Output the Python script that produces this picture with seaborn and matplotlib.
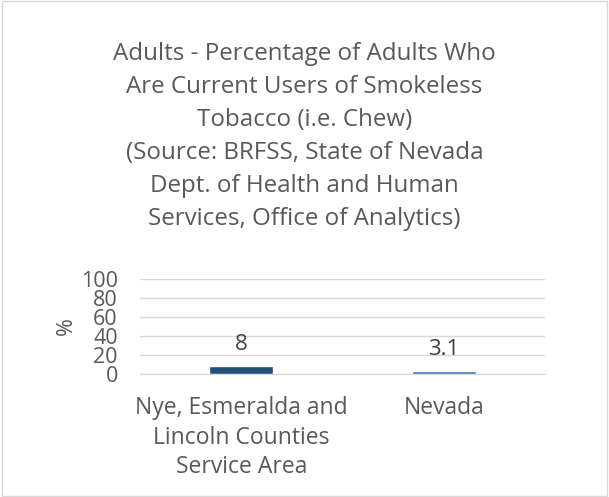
import matplotlib.pyplot as plt
import seaborn as sns
import pandas as pd
from matplotlib.patches import Rectangle

sns.set_style("white")
plt.rcParams["font.family"] = ["Open Sans", "DejaVu Sans"]

# Data
areas = ["Nye, Esmeralda and\nLincoln Counties\nService Area", "Nevada"]
pct_values = [8, 3.1]
bar_colors = ["#1F4E79", "#4472C4"]
y_ticks = [0, 20, 40, 60, 80, 100]

df = pd.DataFrame({"area": areas, "pct": pct_values})

text_gray = "#595959"

fig = plt.figure(figsize=(6.09, 4.97), dpi=100)
ax = fig.add_axes([140 / 609, 1 - 374 / 497, 405 / 609, 95 / 497])

sns.barplot(data=df, x="area", y="pct", hue="area", palette=bar_colors,
            width=0.316, legend=False, ax=ax, saturation=1)

ax.set_ylim(0, 100)
ax.set_xlim(-0.5, 1.5)
ax.set_yticks(y_ticks)
ax.set_yticklabels([str(t) for t in y_ticks], fontsize=15.5, color=text_gray)
ax.yaxis.grid(True, color="#D9D9D9", linewidth=1)
ax.set_axisbelow(True)
for s in ["top", "right", "left"]:
    ax.spines[s].set_visible(False)
ax.spines["bottom"].set_color("#D9D9D9")
ax.tick_params(axis="y", length=0, pad=16)
ax.tick_params(axis="x", length=0, pad=16)
for lbl in ax.get_xticklabels():
    lbl.set_fontsize(16.5)
    lbl.set_color(text_gray)
    lbl.set_linespacing(1.3)
ax.set_xlabel("")
ax.set_ylabel("%", fontsize=15.5, color=text_gray, labelpad=3)

for container in ax.containers:
    ax.bar_label(container, fmt="%g", padding=8, fontsize=16, color="#404040")

fig.text(0.5, 1 - 137 / 497,
         "Adults - Percentage of Adults Who\nAre Current Users of Smokeless\n"
         "Tobacco (i.e. Chew)\n(Source: BRFSS, State of Nevada\n"
         "Dept. of Health and Human\nServices, Office of Analytics)",
         ha="center", va="center", fontsize=17.4, color=text_gray, linespacing=1.5)

fig.patches.append(Rectangle((0.003, 0.003), 0.994, 0.994, transform=fig.transFigure,
                             fill=False, edgecolor="#D9D9D9", linewidth=1))

plt.savefig("out.png", dpi=100)
